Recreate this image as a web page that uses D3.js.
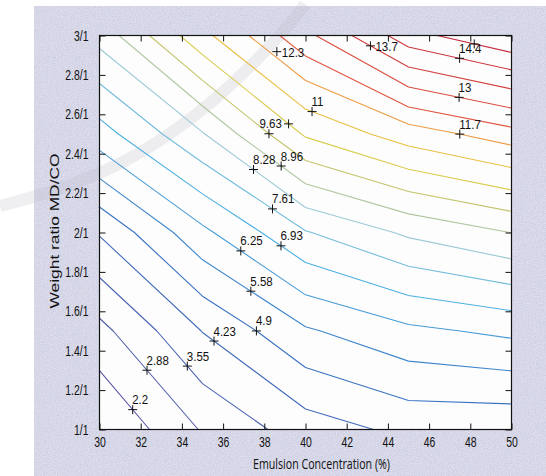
<!DOCTYPE html>
<html>
<head>
<meta charset="utf-8">
<script src="https://cdn.jsdelivr.net/npm/d3@7"></script>
<style>
  html, body { margin: 0; padding: 0; background: #ffffff; }
  svg { display: block; }
</style>
</head>
<body>
<svg id="chart" width="546" height="476"></svg>
<script>
// Fitted response on a 5 x 5 grid: emulsion concentration (%) by MD/CO weight ratio
const gridX = [30, 35, 40, 45, 50];
const gridY = [1, 1.5, 2, 2.5, 3];
const rowAt1_0 = [1.5, 2.94, 3.9, 4.4, 4.375];
const rowAt1_5 = [2.67, 4.25, 5.49, 6.1, 6.4];
const rowAt2_0 = [4.29, 6.09, 7.56, 8.4, 8.97];
const rowAt2_5 = [6.64, 8.23, 10.39, 11.36, 12.05];
const rowAt3_0 = [8.53, 10.8, 12.8, 14.8, 15.66];

// Contour levels
const levels = [2.2, 2.88, 3.55, 4.23, 4.9, 5.58, 6.25, 6.93, 7.61, 8.28,
                8.96, 9.63, 10.3, 11, 11.7, 12.3, 13, 13.7, 14.4, 15.04];

// Contour label marks (one per level), given in data units
const markLevel = levels.slice();
const markX = [31.68, 32.35, 34.32, 35.53, 37.64, 37.36, 36.83, 38.8, 38.33, 37.36,
               38.85, 38.24, 39.26, 40.34, 47.48, 38.61, 47.48, 43.06, 47.48, 48.19];
const markY = [1.107, 1.305, 1.327, 1.445, 1.504, 1.704, 1.902, 1.931, 2.109, 2.303,
               2.342, 2.503, 2.562, 2.62, 2.495, 2.918, 2.698, 2.93, 2.884, 2.957];
const unlabelledLevels = [10.3, 15.04];
const sideLabelledLevels = [12.3, 13.7];
const backedOffLevels = [9.63];

// Axes
const xTicks = [30, 32, 34, 36, 38, 40, 42, 44, 46, 48, 50];
const yTicks = [1, 1.2, 1.4, 1.6, 1.8, 2, 2.2, 2.4, 2.6, 2.8, 3];
const yTickLabels = ["1/1", "1.2/1", "1.4/1", "1.6/1", "1.8/1", "2/1",
                     "2.2/1", "2.4/1", "2.6/1", "2.8/1", "3/1"];
const xTitle = "Emulsion Concentration (%)";
const yTitle = "Weight ratio MD/CO";

// ---------------------------------------------------------------------------
const W = 546, H = 476;
const plot = { left: 99.5, right: 511.5, top: 35.5, bottom: 429.5 };

const x = d3.scaleLinear().domain([30, 50]).range([plot.left, plot.right]);
const y = d3.scaleLinear().domain([1, 3]).range([plot.bottom, plot.top]);

const nx = gridX.length, ny = gridY.length;
// d3.contours places sample i at grid coordinate i + 0.5
const gx = d3.scaleLinear().domain([0.5, nx - 0.5]).range([gridX[0], gridX[nx - 1]]);
const gy = d3.scaleLinear().domain([0.5, ny - 0.5]).range([gridY[0], gridY[ny - 1]]);

const colour = d3.scaleLinear()
  .domain([2.2, 4.9, 6.93, 8.28, 9.63, 10.65, 11.7, 12.3, 15.04])
  .range(["#5a56a6", "#3a72c2", "#4cb0e2", "#9ccad6", "#c4c46c", "#e6d042",
          "#ee9c44", "#e0553e", "#c42c3c"])
  .interpolate(d3.interpolateRgb);

const svg = d3.select("#chart");
const defs = svg.append("defs");

// paper grain for the figure panel
const grain = defs.append("filter").attr("id", "grain")
  .attr("x", 0).attr("y", 0).attr("width", "100%").attr("height", "100%");
grain.append("feTurbulence").attr("type", "fractalNoise")
  .attr("baseFrequency", 0.85).attr("numOctaves", 2).attr("seed", 7);
grain.append("feColorMatrix").attr("type", "matrix")
  .attr("values", "0 0 0 0 1  0 0 0 0 1  0 0 0 0 1  0.5 0.5 0.5 0 -0.55");

defs.append("clipPath").attr("id", "plotClip")
  .append("rect")
  .attr("x", plot.left).attr("y", plot.top)
  .attr("width", plot.right - plot.left).attr("height", plot.bottom - plot.top);

// figure panel
svg.append("rect").attr("x", 34).attr("y", 6)
  .attr("width", W - 34).attr("height", H - 6).attr("fill", "#cdcee2");
svg.append("rect").attr("x", 34).attr("y", 6)
  .attr("width", W - 34).attr("height", H - 6)
  .attr("filter", "url(#grain)").attr("opacity", 0.9);

// axes area
svg.append("rect")
  .attr("x", plot.left).attr("y", plot.top)
  .attr("width", plot.right - plot.left).attr("height", plot.bottom - plot.top)
  .attr("fill", "#fdfdfd");

// faint library stamp sweeping across the upper left
const stamp = [[0, 206], [60, 190], [120, 165], [170, 135], [215, 100], [255, 62], [290, 25], [305, 4]];
svg.append("path")
  .attr("d", d3.line().curve(d3.curveBasis)(stamp))
  .attr("fill", "none").attr("stroke", "#b8b8c4")
  .attr("stroke-width", 12).attr("opacity", 0.22);

// contour lines
const values = [rowAt1_0, rowAt1_5, rowAt2_0, rowAt2_5, rowAt3_0].flat();
const contours = d3.contours().size([nx, ny]).thresholds(levels)(values);

const toScreen = d3.geoTransform({
  point(px, py) { this.stream.point(x(gx(px)), y(gy(py))); }
});
const contourPath = d3.geoPath(toScreen);

svg.append("g").attr("clip-path", "url(#plotClip)")
  .selectAll("path")
  .data(contours)
  .join("path")
  .attr("d", contourPath)
  .attr("fill", "none")
  .attr("stroke", d => colour(d.value))
  .attr("stroke-width", 1.1)
  .attr("stroke-linejoin", "round");

// settle each label mark onto its contour line when the line runs close by
function inside(px, py) {
  const e = 0.01;
  return px >= plot.left - e && px <= plot.right + e && py >= plot.top - e && py <= plot.bottom + e;
}
function settleOnLevel(level, px, py, reach) {
  const c = contours.find(d => d.value === level);
  let best = null, bestD = Infinity;
  if (!c) return [px, py];
  for (const poly of c.coordinates) {
    for (const ring of poly) {
      const pts = ring.map(([a, b]) => [x(gx(a)), y(gy(b))]);
      for (let i = 1; i < pts.length; i++) {
        const [x0, y0] = pts[i - 1], [x1, y1] = pts[i];
        if (!inside(x0, y0) || !inside(x1, y1)) continue;
        const dx = x1 - x0, dy = y1 - y0, len2 = dx * dx + dy * dy;
        let t = len2 ? ((px - x0) * dx + (py - y0) * dy) / len2 : 0;
        t = Math.max(0, Math.min(1, t));
        const qx = x0 + t * dx, qy = y0 + t * dy;
        const dd = (qx - px) ** 2 + (qy - py) ** 2;
        if (dd < bestD) { bestD = dd; best = [qx, qy]; }
      }
    }
  }
  return best && bestD <= reach * reach ? best : [px, py];
}

const fmt = d3.format(".3~g");
const marks = markLevel.map((lv, i) => {
  const [px, py] = settleOnLevel(lv, x(markX[i]), y(markY[i]), 6);
  return { level: lv, px, py };
});

const markG = svg.append("g");
const arm = 4.5;
markG.selectAll("path.cross")
  .data(marks)
  .join("path")
  .attr("class", "cross")
  .attr("d", d => `M${d.px - arm},${d.py}H${d.px + arm}M${d.px},${d.py - arm}V${d.py + arm}`)
  .attr("stroke", "#111")
  .attr("stroke-width", 1)
  .attr("fill", "none");

markG.selectAll("text")
  .data(marks.filter(d => !unlabelledLevels.includes(d.level)))
  .join("text")
  .attr("transform", d => {
    const side = sideLabelledLevels.includes(d.level);
    let tx = side ? d.px + arm + 0.5 : d.px - 0.5;
    const ty = side ? d.py + 5.5 : d.py - 5.5;
    if (backedOffLevels.includes(d.level)) tx -= 9;
    return `translate(${tx},${ty}) scale(0.92,1)`;
  })
  .attr("font-family", "'Liberation Sans', Arial, sans-serif")
  .attr("font-size", 12.5)
  .attr("fill", "#111")
  .text(d => fmt(d.level));

// axes
const tickScale = 0.72;
const axisFont = "'Liberation Sans', Arial, sans-serif";

const gx0 = svg.append("g").attr("transform", `translate(0,${plot.bottom})`)
  .call(d3.axisBottom(x).tickValues(xTicks).tickFormat(d3.format("d"))
    .tickSizeInner(-6).tickSizeOuter(0).tickPadding(7.5));
const gy0 = svg.append("g").attr("transform", `translate(${plot.left},0)`)
  .call(d3.axisLeft(y).tickValues(yTicks).tickFormat((d, i) => yTickLabels[i])
    .tickSizeInner(-6).tickSizeOuter(0).tickPadding(11 / tickScale));
const gxTop = svg.append("g").attr("transform", `translate(0,${plot.top})`)
  .call(d3.axisTop(x).tickValues(xTicks).tickFormat("")
    .tickSizeInner(-6).tickSizeOuter(0));
const gyRight = svg.append("g").attr("transform", `translate(${plot.right},0)`)
  .call(d3.axisRight(y).tickValues(yTicks).tickFormat("")
    .tickSizeInner(-6).tickSizeOuter(0));

[gx0, gy0, gxTop, gyRight].forEach(g => {
  g.select(".domain").remove();
  g.selectAll(".tick line").attr("stroke", "#111").attr("stroke-width", 1);
  g.selectAll(".tick text")
    .attr("font-family", axisFont)
    .attr("font-size", 14.5)
    .attr("fill", "#111")
    .attr("transform", `scale(${tickScale},1)`);
});
gy0.selectAll(".tick text").attr("x", -11 / tickScale);

// axes box
svg.append("rect")
  .attr("x", plot.left).attr("y", plot.top)
  .attr("width", plot.right - plot.left).attr("height", plot.bottom - plot.top)
  .attr("fill", "none").attr("stroke", "#111").attr("stroke-width", 1.2);

// axis titles
svg.append("text")
  .attr("x", 321.5).attr("y", 468.5)
  .attr("text-anchor", "middle")
  .attr("font-family", "'Open Sans', 'Noto Sans', sans-serif")
  .attr("font-size", 15)
  .attr("textLength", 137).attr("lengthAdjust", "spacingAndGlyphs")
  .attr("fill", "#111")
  .text(xTitle);

svg.append("text")
  .attr("transform", `translate(55,231) scale(0.72,1) rotate(-90)`)
  .attr("text-anchor", "middle")
  .attr("dy", "0.35em")
  .attr("font-family", axisFont)
  .attr("font-size", 17)
  .attr("textLength", 155).attr("lengthAdjust", "spacingAndGlyphs")
  .attr("fill", "#111")
  .text(yTitle);
</script>
</body>
</html>
